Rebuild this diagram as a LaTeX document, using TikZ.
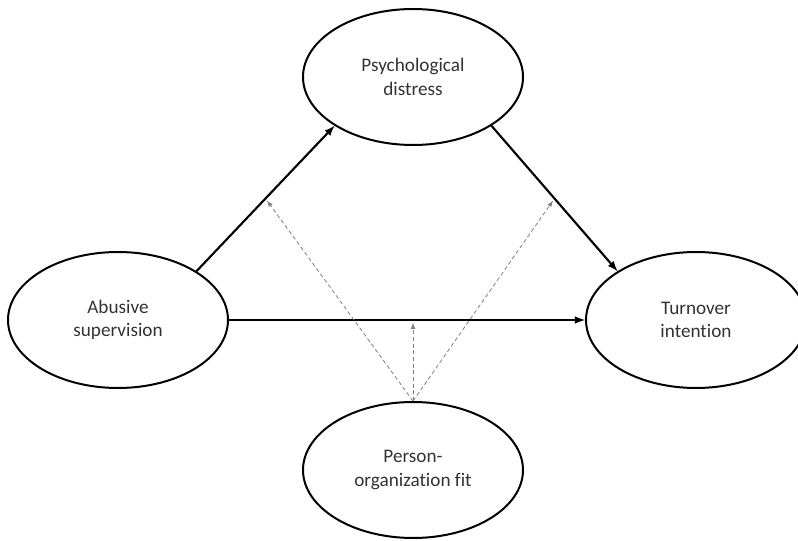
\documentclass[tikz,border=0pt]{standalone}
\usepackage{fontspec}
\setmainfont[Ligatures=NoCommon]{Carlito}
\usepackage{tikz}
\usetikzlibrary{positioning, arrows, shapes}

\begin{document}
\begin{tikzpicture}[
            x=0.75pt, y=-0.75pt,
            construct/.style={ellipse, draw, line width=1.5pt, minimum width=165pt, minimum height=102pt, inner sep=0pt, align=center, text=black!80, font=\fontsize{14.4}{17.5}\selectfont},
            effect/.style={-latex, line width=1.6pt},
            moderation/.style={-latex, densely dashed, gray, line width=0.6pt, shorten >=2pt},
        ]
            \useasboundingbox (0,0) rectangle (798,541);
            % constructs
            \node[construct] (pd) at (413,77) {Psychological\\distress};
            \node[construct] (as) at (118,320) {Abusive\\supervision};
            \node[construct] (ti) at (696,320) {Turnover\\intention};
            \node[construct] (pof) at (413,470) {Person-\\organization fit};
            % direct paths
            \draw[effect] (as.north east) -- coordinate[pos=0.5] (m1) (pd.south west);
            \draw[effect] (pd.south east) -- coordinate[pos=0.5] (m2) (ti.north west);
            \draw[effect] (as.east) -- coordinate[pos=0.5] (m3) (ti.west);
            % moderation
            \draw[moderation] (pof.north) -- (m1);
            \draw[moderation] (pof.north) -- (m2);
            \draw[moderation] (pof.north) -- (pof.north |- m3);
        \end{tikzpicture}
\end{document}
